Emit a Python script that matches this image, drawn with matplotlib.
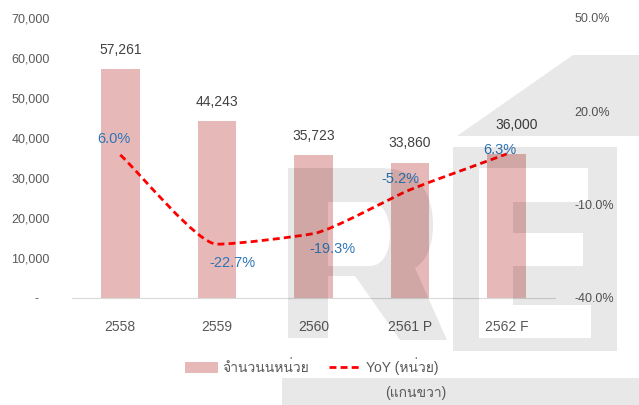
import matplotlib
matplotlib.use("Agg")
from matplotlib import pyplot as plt
from matplotlib import font_manager
from matplotlib.ft2font import FT2Font
from matplotlib.path import Path
from matplotlib.patches import PathPatch, Patch
from matplotlib.lines import Line2D
from matplotlib.transforms import Affine2D
import numpy as np

# ข้อมูล
years = ["2558", "2559", "2560", "2561 P", "2562 F"]
units = [57261, 44243, 35723, 33860, 36000]
yoy = [6.0, -22.7, -19.3, -5.2, 6.3]
left_ticks = [0, 10000, 20000, 30000, 40000, 50000, 60000, 70000]
right_ticks = [-40, -10, 20, 50]


def find_thai_font():
    # ฟอนต์ไทย ถ้ามีในเครื่อง
    for f in font_manager.fontManager.ttflist:
        try:
            if 0x0E19 in FT2Font(f.fname).get_charmap():
                return f.name
        except Exception:
            continue
    return None


families = ["Liberation Sans"]
thai = find_thai_font()
if thai:
    families.append(thai)
families.append("DejaVu Sans")
plt.rcParams["font.family"] = families

BAR = "#E6B8B7"
GREY = "#595959"
DARK = "#404040"
BLUE = "#2E75B6"

W, H = 639, 405
fig = plt.figure(figsize=(W / 100, H / 100), dpi=100)
ax = fig.add_axes([72 / W, 1 - 298 / H, 483 / W, 280 / H])
ax2 = ax.twinx()

x = np.arange(len(years))
ax.bar(x, units, width=0.4, color=BAR, zorder=2)
ax.set_xlim(-0.5, len(years) - 0.5)
ax.set_ylim(0, 70000)
ax.set_yticks(left_ticks)
ax.set_yticklabels([f"{v:,}" if v else "-   " for v in left_ticks])
ax.set_xticks(x)
ax.set_xticklabels(years)
ax.tick_params(axis="y", length=0, pad=16, labelsize=9, labelcolor=GREY)
ax.tick_params(axis="x", length=0, pad=16, labelsize=10, labelcolor=GREY)
for s in ["top", "left", "right"]:
    ax.spines[s].set_visible(False)
ax.spines["bottom"].set_color("#D9D9D9")

# ป้ายค่าบนแท่ง
bar_dx = [0, 0, 0, 0, 7]
bar_dy = [14, 14, 14, 14, 21]
for i, v in enumerate(units):
    ax.annotate(f"{v:,}", (x[i], v), xytext=(bar_dx[i], bar_dy[i]), textcoords="offset points",
                ha="center", va="center", fontsize=10, color=DARK)

# แกนขวา
ax2.set_ylim(-40, 50)
ax2.set_yticks(right_ticks)
ax2.set_yticklabels([f"{v:.1f}%" for v in right_ticks])
ax2.tick_params(axis="y", length=0, pad=14, labelsize=9, labelcolor=GREY)
for s in ["top", "left", "right", "bottom"]:
    ax2.spines[s].set_visible(False)

# เส้นโค้งแบบ smooth เบา ๆ ไม่ให้เลยจุดต่ำสุด
pts = np.column_stack([x, yoy]).astype(float)
d = np.diff(pts[:, 1]) / np.diff(pts[:, 0])
m = np.zeros(len(pts))
m[0], m[-1] = d[0], d[-1]
for i in range(1, len(pts) - 1):
    if d[i - 1] * d[i] > 0:
        m[i] = 2 / (1 / d[i - 1] + 1 / d[i])
verts = [pts[0]]
codes = [Path.MOVETO]
for i in range(len(pts) - 1):
    h = (pts[i + 1, 0] - pts[i, 0]) / 5
    verts += [pts[i] + (h, m[i] * h), pts[i + 1] - (h, m[i + 1] * h), pts[i + 1]]
    codes += [Path.CURVE4] * 3
ax2.add_patch(PathPatch(Path(verts, codes), fill=False, edgecolor="#FF0000", lw=2,
                        linestyle=(0, (2.5, 1.5)), zorder=3))

yoy_off = [(-4.5, 11.5), (11.5, -13.7), (13.7, -10.8), (-7.2, 7.9), (-5, 2.9)]
for i, v in enumerate(yoy):
    ax2.annotate(f"{v:.1f}%", (x[i], v), xytext=yoy_off[i], textcoords="offset points",
                 ha="center", va="center", fontsize=10.5, color=BLUE)

# legend
handles = [Patch(facecolor=BAR, edgecolor="none"),
           Line2D([], [], color="#FF0000", lw=2, linestyle=(0, (2.5, 1.5)))]
fig.legend(handles, ["จำนวนนหน่วย", "YoY (หน่วย)"], loc="center", bbox_to_anchor=(0.488, 0.096),
           ncol=2, frameon=False, fontsize=10, handlelength=2.4, handleheight=0.9,
           handletextpad=0.3, columnspacing=1.4, labelcolor=GREY)
fig.text(416 / W, 1 - 393 / H, "(แกนขวา)", ha="center", va="center", fontsize=10, color=GREY)

# ลายน้ำ RE (พิกัดเป็นพิกเซล)
M, L, C, Z = Path.MOVETO, Path.LINETO, Path.CURVE4, Path.CLOSEPOLY


def poly(p):
    return p + [p[0]], [M] + [L] * (len(p) - 1) + [Z]


wm_v, wm_c = [], []
for p in [
    [(457, 136), (573, 55), (639, 55), (639, 136)],
    [(453, 147), (617, 147), (617, 351), (453, 351)],
    [(479, 168), (479, 338), (591, 338), (591, 305), (513, 305), (513, 266), (583, 266),
     (583, 233), (513, 233), (513, 202), (588, 202), (588, 168)],
    [(282, 378), (639, 378), (639, 405), (282, 405)],
]:
    v, c = poly(p)
    wm_v += v
    wm_c += c
wm_v += [(288, 168), (380, 168), (420, 168), (433, 195), (433, 225), (433, 248), (425, 262),
         (415, 268), (447, 340), (400, 340), (355, 276), (328, 276), (328, 338), (288, 338), (288, 168)]
wm_c += [M, L, C, C, C, C, C, C, L, L, L, L, L, L, Z]
wm_v += [(328, 202), (328, 266), (370, 266), (382, 266), (390, 253), (390, 234), (390, 215),
         (382, 202), (370, 202), (328, 202)]
wm_c += [M, L, L, C, C, C, C, C, C, Z]
px = Affine2D().scale(1 / W, -1 / H).translate(0, 1) + fig.transFigure
fig.add_artist(PathPatch(Path(wm_v, wm_c), facecolor="black", edgecolor="none", alpha=0.09,
                         transform=px, zorder=1))

fig.savefig("out.png", dpi=100)
